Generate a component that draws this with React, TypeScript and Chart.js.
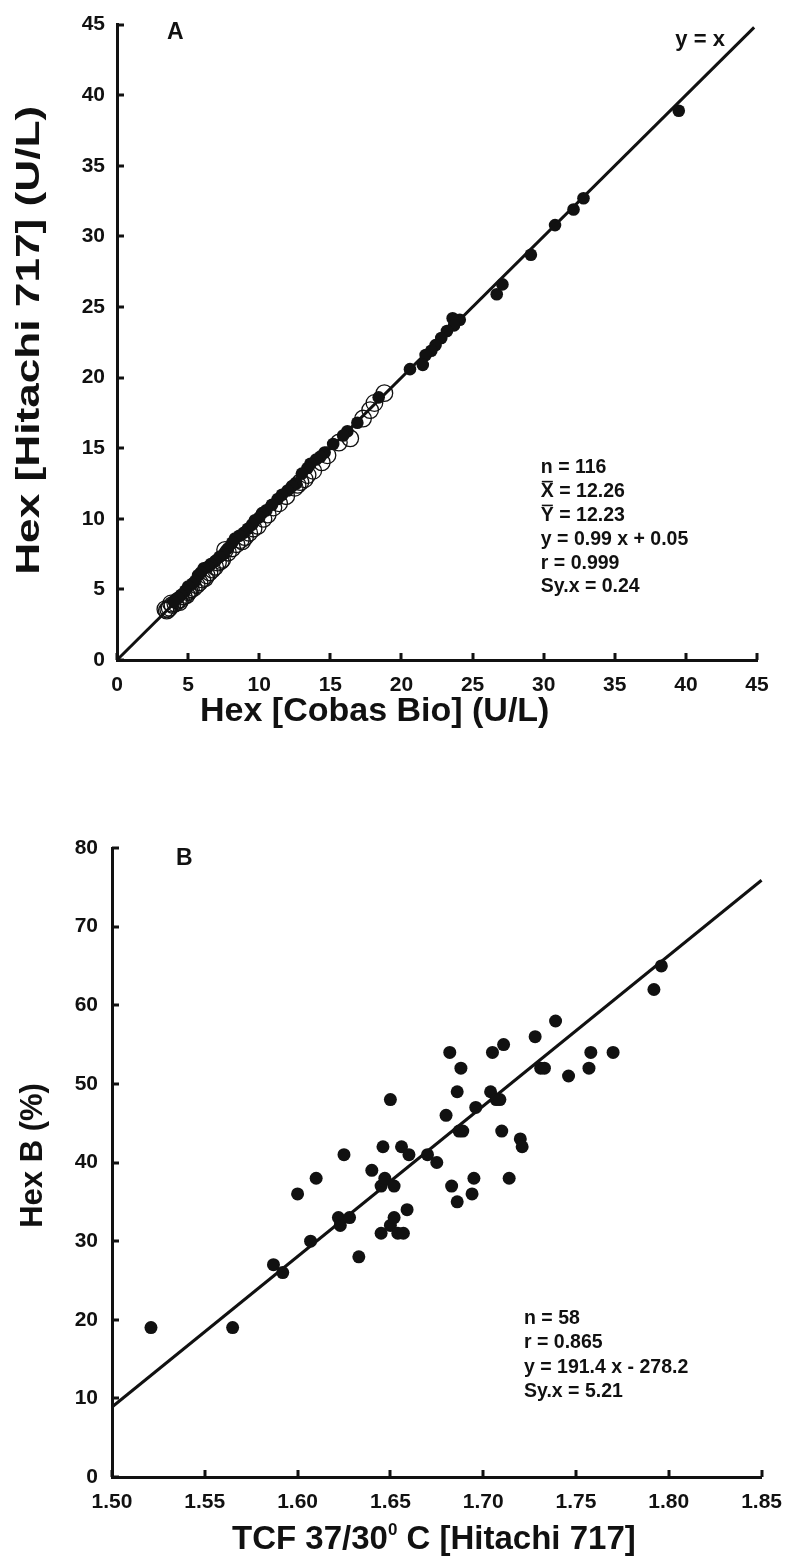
import React, { useEffect, useRef } from 'react';
import { Chart, registerables } from 'chart.js';

Chart.register(...registerables);

const FONT = "'Liberation Sans', Arial, Helvetica, sans-serif";
const INK = '#111111';

// ---------- Panel A data ----------
const hexFilledX = [39.5, 32.8, 32.1, 30.8, 29.1, 27.1, 26.7, 24.1, 23.6, 23.7, 23.2, 22.8, 22.4, 22.1, 21.7, 21.5, 20.6, 18.4, 16.9, 16.2, 15.9, 15.2, 14.6, 14.3, 14.0, 13.6, 13.4, 13.0, 12.6, 12.3, 12.0, 11.6, 11.3, 10.9, 10.5, 10.2, 10.0, 9.7, 9.5, 9.2, 8.9, 8.6, 8.3, 8.1, 7.8, 7.5, 7.2, 6.9, 6.6, 6.4, 6.1, 5.9, 5.7, 5.5, 5.3, 5.0, 4.8, 4.5, 4.3, 4.0];
const hexFilledY = [38.9, 32.7, 31.9, 30.8, 28.7, 26.6, 25.9, 24.1, 24.2, 23.7, 23.3, 22.8, 22.3, 21.9, 21.6, 20.9, 20.6, 18.6, 16.8, 16.2, 15.9, 15.3, 14.7, 14.4, 14.2, 13.9, 13.6, 13.2, 12.5, 12.3, 12.0, 11.7, 11.4, 11.0, 10.6, 10.4, 10.1, 9.9, 9.6, 9.3, 9.0, 8.8, 8.6, 8.3, 7.9, 7.5, 7.3, 7.0, 6.8, 6.6, 6.5, 6.2, 6.0, 5.6, 5.4, 5.2, 4.9, 4.6, 4.4, 4.1];
const hexOpenX = [18.8, 18.1, 17.8, 17.3, 16.4, 15.6, 14.8, 14.4, 13.8, 13.4, 13.2, 12.9, 12.7, 12.5, 11.9, 11.4, 11.0, 10.6, 10.3, 9.9, 9.6, 9.3, 9.0, 8.8, 8.7, 8.4, 8.1, 7.8, 7.6, 7.4, 7.3, 7.1, 6.9, 6.7, 6.5, 6.3, 6.2, 6.0, 5.8, 5.6, 5.4, 5.2, 5.1, 5.0, 4.9, 4.7, 4.5, 4.4, 4.3, 4.1, 3.9, 3.8, 3.7, 3.6, 3.5, 3.4];
const hexOpenY = [18.9, 18.2, 17.7, 17.1, 15.7, 15.4, 14.5, 14.0, 13.4, 13.1, 12.8, 12.6, 12.4, 12.2, 11.6, 11.1, 10.8, 10.3, 10.0, 9.5, 9.3, 9.0, 8.7, 8.4, 8.5, 8.2, 7.9, 7.6, 7.8, 7.1, 7.0, 6.9, 6.6, 6.4, 6.2, 6.0, 5.8, 5.7, 5.5, 5.3, 5.1, 5.0, 4.9, 4.8, 4.6, 4.5, 4.3, 4.1, 4.2, 4.0, 3.9, 4.0, 3.7, 3.6, 3.5, 3.6];
const identityX = [0, 44.8];
const identityY = [0, 44.8];
const panelATickValues = [0, 5, 10, 15, 20, 25, 30, 35, 40, 45];
const panelAStats = ['n = 116', 'X\u0304 = 12.26', 'Y\u0304 = 12.23', 'y = 0.99 x + 0.05', 'r = 0.999', 'Sy.x = 0.24'];
const panelAXTitle = 'Hex [Cobas Bio] (U/L)';
const panelAYTitle = 'Hex [Hitachi 717] (U/L)';

// ---------- Panel B data ----------
const tcfX = [1.521, 1.565, 1.587, 1.592, 1.600, 1.610, 1.607, 1.622, 1.623, 1.625, 1.628, 1.633, 1.640, 1.645, 1.645, 1.646, 1.647, 1.650, 1.650, 1.652, 1.652, 1.654, 1.656, 1.657, 1.659, 1.660, 1.670, 1.675, 1.680, 1.682, 1.683, 1.686, 1.686, 1.688, 1.689, 1.687, 1.694, 1.695, 1.696, 1.704, 1.705, 1.707, 1.709, 1.710, 1.711, 1.714, 1.720, 1.721, 1.728, 1.731, 1.733, 1.739, 1.746, 1.757, 1.758, 1.770, 1.792, 1.796];
const hexBY = [19, 19, 27, 26, 36, 38, 30, 33, 32, 41, 33, 28, 39, 37, 31, 42, 38, 48, 32, 37, 33, 31, 42, 31, 34, 41, 41, 40, 46, 54, 37, 49, 35, 52, 44, 44, 36, 38, 47, 49, 54, 48, 48, 44, 55, 38, 43, 42, 56, 52, 52, 58, 51, 52, 54, 54, 62, 65];
const fitX = [1.5, 1.85];
const fitY = [8.9, 75.9];
const panelBXTicks = [1.5, 1.55, 1.6, 1.65, 1.7, 1.75, 1.8, 1.85];
const panelBYTicks = [0, 10, 20, 30, 40, 50, 60, 70, 80];
const panelBStats = ['n = 58', 'r = 0.865', 'y = 191.4 x - 278.2', 'Sy.x = 5.21'];
const panelBXTitleParts = ['TCF 37/30', '0', ' C [Hitachi 717]'];
const panelBYTitle = 'Hex B (%)';

const toPts = (xs: number[], ys: number[]) => xs.map((x, i) => ({ x, y: ys[i] }));

const decorPlugin = {
  id: 'decor',
  afterDatasetsDraw(chart: any, _args: any, opts: any) {
    const { ctx, chartArea } = chart;
    const xs = chart.scales.x;
    const ys = chart.scales.y;
    ctx.save();
    ctx.strokeStyle = INK;
    ctx.lineWidth = 3;
    ctx.lineCap = 'butt';
    for (const t of xs.ticks) {
      const p = Math.round(xs.getPixelForValue(t.value));
      ctx.beginPath();
      ctx.moveTo(p, chartArea.bottom);
      ctx.lineTo(p, chartArea.bottom - opts.tickLen);
      ctx.stroke();
    }
    for (const t of ys.ticks) {
      const p = Math.round(ys.getPixelForValue(t.value));
      ctx.beginPath();
      ctx.moveTo(chartArea.left, p);
      ctx.lineTo(chartArea.left + opts.tickLen, p);
      ctx.stroke();
    }
    ctx.fillStyle = INK;
    ctx.textBaseline = 'middle';
    for (const item of opts.labels) {
      ctx.font = item.font;
      ctx.textAlign = item.align || 'left';
      const x0 = xs.getPixelForValue(item.x);
      const y0 = ys.getPixelForValue(item.y);
      item.lines.forEach((raw: string, i: number) => {
        const y = y0 + i * (item.spacing || 0);
        const bar = raw.indexOf('\u0304');
        const text = raw.replace('\u0304', '');
        ctx.fillText(text, x0, y);
        if (bar > 0) {
          const pre = ctx.measureText(text.slice(0, bar - 1)).width;
          const w = ctx.measureText(text.slice(bar - 1, bar)).width;
          ctx.lineWidth = 1.6;
          ctx.beginPath();
          ctx.moveTo(x0 + pre + 1, y - item.size * 0.52);
          ctx.lineTo(x0 + pre + w - 1, y - item.size * 0.52);
          ctx.stroke();
        }
      });
    }
    // axis titles: positions relative to the chart area
    const xt = opts.xTitle;
    if (xt) {
      ctx.save();
      ctx.textAlign = 'left';
      ctx.textBaseline = 'middle';
      ctx.translate(chartArea.left + xt.dx, chartArea.bottom + xt.dy);
      ctx.scale(1, xt.sy || 1);
      let cx = 0;
      xt.parts.forEach((part: string, i: number) => {
        const sup = xt.supIndex === i;
        ctx.font = `bold ${sup ? Math.round(xt.size * 0.5) : xt.size}px ${FONT}`;
        ctx.fillText(part, cx, sup ? -xt.size * 0.3 : 0);
        cx += ctx.measureText(part).width;
      });
      ctx.restore();
    }
    const yt = opts.yTitle;
    if (yt) {
      ctx.save();
      ctx.textAlign = 'center';
      ctx.textBaseline = 'middle';
      ctx.font = `bold ${yt.size}px ${FONT}`;
      ctx.translate(chartArea.left + yt.dx, (chartArea.top + chartArea.bottom) / 2 + yt.dy);
      ctx.rotate(-Math.PI / 2);
      ctx.scale(yt.sx || 1, 1);
      ctx.fillText(yt.text, 0, 0);
      ctx.restore();
    }
    ctx.restore();
  },
};

const tickFont = { family: FONT, size: 21, weight: 'bold' as const };

function axis(min: number, max: number, values: number[], fmt: (v: number) => string, pad: number, afterFit: (s: any) => void) {
  return {
    type: 'linear',
    min,
    max,
    afterBuildTicks: (s: any) => {
      s.ticks = values.map((v) => ({ value: v }));
    },
    afterFit,
    ticks: { color: INK, font: tickFont, padding: pad, callback: (v: any) => fmt(Number(v)), autoSkip: false, maxRotation: 0 },
    grid: { display: true, drawOnChartArea: false, drawTicks: false, color: 'rgba(0,0,0,0)' },
    border: { display: true, color: INK, width: 3 },
    title: { display: false },
  };
}

function PanelA() {
  const ref = useRef<HTMLCanvasElement | null>(null);
  useEffect(() => {
    if (!ref.current) return;
    const chart = new Chart(ref.current, {
      type: 'scatter',
      data: {
        datasets: [
          {
            type: 'line',
            data: toPts(identityX, identityY),
            borderColor: INK,
            borderWidth: 3,
            pointRadius: 0,
            clip: false,
          } as any,
          {
            data: toPts(hexFilledX, hexFilledY),
            backgroundColor: INK,
            borderColor: INK,
            borderWidth: 0,
            pointRadius: 6.3,
            clip: false,
          },
          {
            data: toPts(hexOpenX, hexOpenY),
            backgroundColor: 'rgba(255,255,255,0)',
            borderColor: INK,
            borderWidth: 1.3,
            pointRadius: 8.3,
            clip: false,
          },
        ],
      },
      options: {
        responsive: false,
        animation: false,
        layout: { padding: { left: 0, top: 22, right: 38, bottom: 0 } },
        plugins: {
          legend: { display: false },
          tooltip: { enabled: false },
          decor: {
            tickLen: 7,
            labels: [
              { x: 4.1, y: 44.4, lines: ['A'], font: `bold 23px ${FONT}`, size: 23, align: 'center' },
              { x: 41.0, y: 43.9, lines: ['y = x'], font: `bold 22px ${FONT}`, size: 22, align: 'center' },
              { x: 29.8, y: 13.6, lines: panelAStats, font: `bold 19.5px ${FONT}`, size: 19.5, spacing: 23.8 },
            ],
            xTitle: { parts: [panelAXTitle], size: 34, dx: 83, dy: 52 },
            yTitle: { text: panelAYTitle, size: 34, sx: 1.3, dx: -87, dy: -2 },
          },
        } as any,
        scales: {
          x: axis(0, 45, panelATickValues, (v) => String(v), 13, (s: any) => { s.height = 100; }),
          y: axis(0, 45, panelATickValues, (v) => String(v), 12, (s: any) => { s.width = 117; }),
        } as any,
      },
      plugins: [decorPlugin],
    } as any);
    return () => chart.destroy();
  }, []);
  return <canvas ref={ref} width={795} height={760} style={{ position: 'absolute', left: 0, top: 0 }} />;
}

function PanelB() {
  const ref = useRef<HTMLCanvasElement | null>(null);
  useEffect(() => {
    if (!ref.current) return;
    const chart = new Chart(ref.current, {
      type: 'scatter',
      data: {
        datasets: [
          {
            type: 'line',
            data: toPts(fitX, fitY),
            borderColor: INK,
            borderWidth: 3,
            pointRadius: 0,
            clip: false,
          } as any,
          {
            data: toPts(tcfX, hexBY),
            backgroundColor: INK,
            borderColor: INK,
            borderWidth: 0,
            pointRadius: 6.5,
            clip: false,
          },
        ],
      },
      options: {
        responsive: false,
        animation: false,
        layout: { padding: { left: 0, top: 68, right: 26, bottom: 0 } },
        plugins: {
          legend: { display: false },
          tooltip: { enabled: false },
          decor: {
            tickLen: 7,
            labels: [
              { x: 1.539, y: 78.6, lines: ['B'], font: `bold 23px ${FONT}`, size: 23, align: 'center' },
              { x: 1.722, y: 20.2, lines: panelBStats, font: `bold 19.5px ${FONT}`, size: 19.5, spacing: 24.5 },
            ],
            xTitle: { parts: panelBXTitleParts, supIndex: 1, size: 33, dx: 120, dy: 63 },
            yTitle: { text: panelBYTitle, size: 31, sx: 1, dx: -79, dy: -7 },
          },
        } as any,
        scales: {
          x: axis(1.5, 1.85, panelBXTicks, (v) => v.toFixed(2), 13, (s: any) => { s.height = 87; }),
          y: axis(0, 80, panelBYTicks, (v) => String(v), 14, (s: any) => { s.width = 112; }),
        } as any,
      },
      plugins: [decorPlugin],
    } as any);
    return () => chart.destroy();
  }, []);
  return <canvas ref={ref} width={795} height={784} style={{ position: 'absolute', left: 0, top: 780 }} />;
}

export default function App() {
  return (
    <div style={{ position: 'absolute', left: 0, top: 0, width: 795, height: 1564, background: '#ffffff', overflow: 'hidden' }}>
      <PanelA />
      <PanelB />
    </div>
  );
}
